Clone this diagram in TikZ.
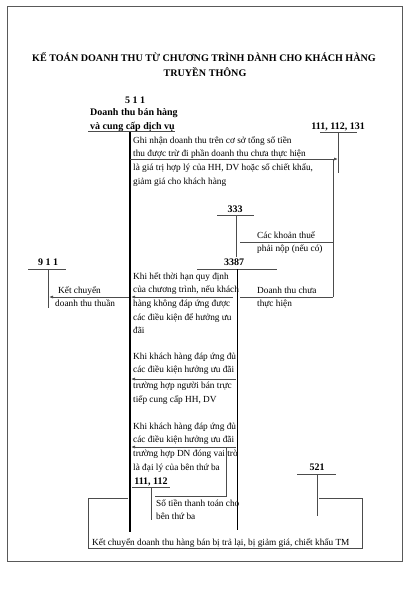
\documentclass[tikz,border=0pt]{standalone}
\usepackage{fontspec}
\setmainfont{Liberation Serif}
\usetikzlibrary{arrows.meta}
\newcommand\mlines[1]{\begin{tabular}[t]{@{}l@{}}#1\end{tabular}}
\begin{document}
\begin{tikzpicture}[x=1pt,y=-1pt,
 txt/.style={anchor=base west, inner sep=0pt, font=\fontsize{9.3}{13.7}\selectfont},
 acc/.style={anchor=base, inner sep=0pt, font=\fontsize{10}{12}\selectfont\bfseries},
 ttl/.style={anchor=base, inner sep=0pt, font=\fontsize{10.1}{15}\selectfont\bfseries},
 ln/.style={draw=black!70, line width=0.7pt},
 mainln/.style={draw=black, line width=1.1pt},
 arr/.style={ln, -{Latex[length=4pt,width=3pt]}},
]
\useasboundingbox (0,0) rectangle (410,600);
\fill[white] (0,0) rectangle (410,600);
\draw[black!65, line width=0.8pt] (7,6) rectangle (402,561);

% title
\node[ttl] (title1) at (204,61) {KẾ TOÁN DOANH THU TỪ CHƯƠNG TRÌNH DÀNH CHO KHÁCH HÀNG};
\node[ttl] (title2) at (205,76) {TRUYỀN THÔNG};

% account 511
\node[acc] (n511) at (135,103) {5 1 1};
\node[acc, anchor=base west] (n511a) at (90,115.5) {Doanh thu bán hàng};
\node[acc, anchor=base west] (n511b) at (90,129) {và cung cấp dịch vụ};
\coordinate (a511l) at (88,131.5);
\coordinate (a511r) at (175,131.5);
\coordinate (a511t) at (130,131.5);
\coordinate (a511b) at (130,532);
\draw[ln] (a511l) -- (a511r);
\draw[mainln] (a511t) -- (a511b);

% account 111,112,131
\node[acc, anchor=base east] (n111) at (365,129) {111, 112, 131};
\coordinate (a111l) at (320,132);
\coordinate (a111r) at (357,132);
\coordinate (a111t) at (338,132);
\coordinate (a111b) at (338,173);
\draw[ln] (a111l) -- (a111r);
\draw[ln] (a111t) -- (a111b);

% arrow 511 -> 111
\coordinate (r1s) at (130,159);
\coordinate (r1e) at (338,159);
\draw[arr] (r1s) -- (r1e);
\node[txt] (t1) at (133,143) {\mlines{Ghi nhận doanh thu trên cơ sở tổng số tiền\\
thu được trừ đi phần doanh thu chưa thực hiện\\
là giá trị hợp lý của HH, DV hoặc số chiết khấu,\\
giảm giá cho khách hàng}};

% right vertical line 111 side
\coordinate (rvt) at (333,159);
\coordinate (rvb) at (333,297);
\draw[ln] (rvt) -- (rvb);

% account 333
\node[acc] (n333) at (235,212) {333};
\coordinate (a333l) at (217,215);
\coordinate (a333r) at (254,215);
\coordinate (a333t) at (236,215);
\coordinate (a333b) at (236,257);
\draw[ln] (a333l) -- (a333r);
\draw[ln] (a333t) -- (a333b);
\coordinate (h333s) at (333,242);
\coordinate (h333e) at (240,242);
\draw[ln] (h333s) -- (h333e);
\node[txt] (t333) at (257,238) {\mlines{Các khoản thuế\\phải nộp (nếu có)}};

% account 3387
\node[acc] (n3387) at (234,265.5) {3387};
\coordinate (a3387l) at (197,269);
\coordinate (a3387r) at (277,269);
\coordinate (a3387t) at (237,269);
\coordinate (a3387b) at (237,530);
\draw[ln] (a3387l) -- (a3387r);
\draw[mainln, line width=0.9pt] (a3387t) -- (a3387b);
\coordinate (h3387s) at (333,297);
\coordinate (h3387e) at (240,297);
\draw[ln] (h3387s) -- (h3387e);
\node[txt] (t3387) at (257,293) {\mlines{Doanh thu chưa\\thực hiện}};

% arrow 3387 -> 511
\coordinate (r2s) at (233,297);
\coordinate (r2e) at (131,297);
\draw[arr] (r2s) -- (r2e);
\node[txt] (t2) at (133,279) {\mlines{Khi hết thời hạn quy định\\
của chương trình, nếu khách\\
hàng không đáp ứng được\\
các điều kiện để hưởng ưu\\
đãi}};

% account 911
\node[acc] (n911) at (48,265.5) {9 1 1};
\coordinate (a911l) at (28,269);
\coordinate (a911r) at (66,269);
\coordinate (a911t) at (48,269);
\coordinate (a911b) at (48,308);
\draw[ln] (a911l) -- (a911r);
\draw[ln] (a911t) -- (a911b);
\coordinate (r3s) at (129,297);
\coordinate (r3e) at (49,297);
\draw[arr] (r3s) -- (r3e);
\node[txt] (t911a) at (58,293) {Kết chuyển};
\node[txt] (t911b) at (55,306.7) {doanh thu thuần};

% arrow 3387 -> 511 (direct seller)
\coordinate (r4s) at (236,379);
\coordinate (r4e) at (131,379);
\draw[arr] (r4s) -- (r4e);
\node[txt] (t3) at (133,359) {\mlines{Khi khách hàng đáp ứng đủ\\các điều kiện hưởng ưu đãi}};
\node[txt] (t3b) at (133,388.5) {\mlines{trường hợp người bán trực\\tiếp cung cấp HH, DV}};

% arrow 3387 -> 511 (agent)
\coordinate (r5s) at (236,447);
\coordinate (r5e) at (131,447);
\draw[arr] (r5s) -- (r5e);
\node[txt] (t4) at (133,429) {\mlines{Khi khách hàng đáp ứng đủ\\các điều kiện hưởng ưu đãi}};
\node[txt] (t4b) at (133,456.5) {\mlines{trường hợp DN đóng vai trò\\là đại lý của bên thứ ba}};

% account 111,112
\node[acc] (n1112) at (151,484) {111, 112};
\coordinate (a1112l) at (132,487.5);
\coordinate (a1112r) at (170,487.5);
\coordinate (a1112t) at (151,487.5);
\coordinate (a1112b) at (151,520);
\draw[ln] (a1112l) -- (a1112r);
\draw[ln] (a1112t) -- (a1112b);
\coordinate (p1) at (155,496);
\coordinate (p2) at (226,496);
\coordinate (p3) at (226,447);
\draw[ln] (p1) -- (p2) -- (p3);
\node[txt] (t5) at (156,506) {\mlines{Số tiền thanh toán cho\\bên thứ ba}};

% account 521
\node[acc] (n521) at (317,470) {521};
\coordinate (a521l) at (297,474);
\coordinate (a521r) at (336,474);
\coordinate (a521t) at (317,474);
\coordinate (a521b) at (317,516);
\draw[ln] (a521l) -- (a521r);
\draw[ln] (a521t) -- (a521b);
\coordinate (q1) at (319,498);
\coordinate (q2) at (362,498);
\coordinate (q3) at (362,548);
\coordinate (q4) at (88,548);
\coordinate (q5) at (88,498);
\coordinate (q6) at (128,498);
\draw[ln] (q1) -- (q2) -- (q3) -- (q4) -- (q5) -- (q6);
\node[txt] (t6) at (92,545) {Kết chuyển doanh thu hàng bán bị trả lại, bị giảm giá, chiết khấu TM};
\end{tikzpicture}
\end{document}
